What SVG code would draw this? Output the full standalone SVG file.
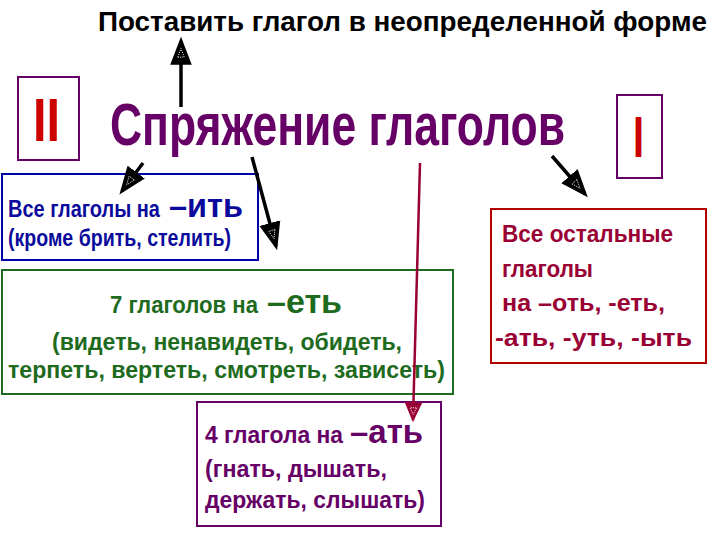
<svg xmlns="http://www.w3.org/2000/svg" width="720" height="540" viewBox="0 0 720 540">
<style>
text{font-family:"Liberation Sans",Arial,sans-serif;font-weight:bold}
.box{fill:#fff;stroke-width:2}
.con{fill:none;stroke:#000;stroke-width:3.5}
.t{font-size:24px}
.big{font-size:34px}
</style>
<defs>
<marker id="ah" markerUnits="userSpaceOnUse" markerWidth="28" markerHeight="22" refX="22" refY="10" orient="auto" viewBox="0 0 26 20">
<path d="M0,0 L26,10 L0,20 z" fill="#000"/>
<path d="M7,7 L15,10 L7,13 z" fill="none" stroke="#fff" stroke-width="0.8" stroke-dasharray="1,1"/>
</marker>
<marker id="ahr" markerUnits="userSpaceOnUse" markerWidth="20" markerHeight="18" refX="16" refY="8" orient="auto" viewBox="0 0 18 16">
<path d="M0,0 L18,8 L0,16 z" fill="#990033"/>
<path d="M5,5 L11,8 L5,11 z" fill="none" stroke="#fff" stroke-width="0.8" stroke-dasharray="1,1"/>
</marker>
</defs>
<rect width="720" height="540" fill="#fff"/>

<g id="top-label">
<text x="98" y="31" font-size="28" textLength="609" lengthAdjust="spacingAndGlyphs" fill="#000">Поставить глагол в неопределенной форме</text>
</g>

<g id="title">
<text transform="translate(110,145) scale(0.734,1)" x="0" y="0" font-size="60" textLength="620" lengthAdjust="spacingAndGlyphs" fill="#660066">Спряжение глаголов</text>
</g>

<g id="roman-II">
<rect class="box" x="18" y="77" width="61" height="83" stroke="#660066"/>
<text x="33" y="141" font-size="61" textLength="27" lengthAdjust="spacingAndGlyphs" fill="#cc0000">II</text>
</g>

<g id="roman-I">
<rect class="box" x="617" y="95" width="45" height="83" stroke="#660066"/>
<text x="633" y="157" font-size="58" textLength="11" lengthAdjust="spacingAndGlyphs" fill="#cc0000">I</text>
</g>

<g id="box-it">
<rect class="box" x="2" y="174" width="256" height="86" stroke="#0000aa"/>
<text class="t" transform="translate(8,217) scale(0.88,1)" x="0" y="0" textLength="172.7" lengthAdjust="spacingAndGlyphs" fill="#0a0a9c">Все глаголы на</text>
<text class="big" x="169" y="217" textLength="74" lengthAdjust="spacingAndGlyphs" fill="#0a0a9c">–ить</text>
<text class="t" x="8" y="246" textLength="223" lengthAdjust="spacingAndGlyphs" fill="#0a0a9c">(кроме брить, стелить)</text>
</g>

<g id="box-et">
<rect class="box" x="2" y="270" width="451" height="124" stroke="#1e6b1e"/>
<text class="t" x="110" y="313" textLength="148" lengthAdjust="spacingAndGlyphs" fill="#1e6b1e">7 глаголов на</text>
<text class="big" x="267" y="313" textLength="75" lengthAdjust="spacingAndGlyphs" fill="#1e6b1e">–еть</text>
<text class="t" x="52" y="350" textLength="350" lengthAdjust="spacingAndGlyphs" fill="#1e6b1e">(видеть, ненавидеть, обидеть,</text>
<text class="t" x="8" y="378" textLength="437" lengthAdjust="spacingAndGlyphs" fill="#1e6b1e">терпеть, вертеть, смотреть, зависеть)</text>
</g>

<g id="box-at">
<rect class="box" x="197" y="402" width="244" height="124" stroke="#660066"/>
<text class="t" x="205" y="443" textLength="138" lengthAdjust="spacingAndGlyphs" fill="#660066">4 глагола на</text>
<text class="big" x="350" y="443" textLength="73" lengthAdjust="spacingAndGlyphs" fill="#660066">–ать</text>
<text class="t" x="205" y="477" textLength="182" lengthAdjust="spacingAndGlyphs" fill="#660066">(гнать, дышать,</text>
<text class="t" x="205" y="508" textLength="220" lengthAdjust="spacingAndGlyphs" fill="#660066">держать, слышать)</text>
</g>

<g id="box-other">
<rect class="box" x="491" y="209" width="215" height="154" stroke="#b00000" stroke-width="3"/>
<text class="t" x="502" y="242" textLength="171" lengthAdjust="spacingAndGlyphs" fill="#990033">Все остальные</text>
<text class="t" x="502" y="277" textLength="91" lengthAdjust="spacingAndGlyphs" fill="#990033">глаголы</text>
<text class="t" x="502" y="311" textLength="163" lengthAdjust="spacingAndGlyphs" fill="#990033">на –оть, -еть,</text>
<text class="t" x="495" y="346" textLength="197" lengthAdjust="spacingAndGlyphs" fill="#990033">-ать, -уть, -ыть</text>
</g>

<g id="connectors">
<line class="con" x1="181" y1="107" x2="181" y2="41" marker-end="url(#ah)"/>
<line class="con" x1="143" y1="163" x2="122" y2="191" marker-end="url(#ah)"/>
<line class="con" x1="252" y1="157" x2="276" y2="246" marker-end="url(#ah)"/>
<line class="con" x1="552" y1="156" x2="585" y2="194" marker-end="url(#ah)"/>
<line x1="420" y1="163" x2="413" y2="420" stroke="#990033" stroke-width="2.5" marker-end="url(#ahr)"/>
</g>
</svg>
